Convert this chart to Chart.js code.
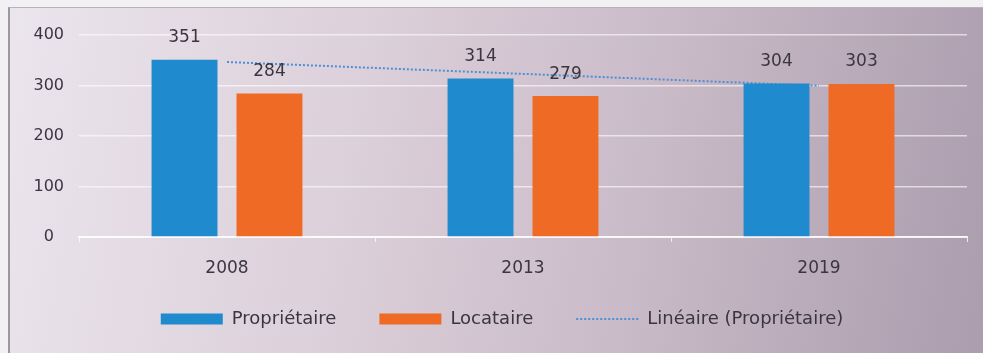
<!DOCTYPE html>
<html lang="fr">
<head>
<meta charset="utf-8">
<script src="https://cdn.jsdelivr.net/npm/chart.js@4.4.1/dist/chart.umd.min.js"></script>
<style>
  html, body { margin: 0; padding: 0; }
  body { width: 983px; height: 353px; overflow: hidden; background: #f3f0f3; }
  #frame {
    position: absolute; left: 8px; top: 7px; width: 975px; height: 346px;
    border-left: 2px solid #9c979c; border-top: 1px solid #b9b3b9;
    background: linear-gradient(100deg, #ebe5ed 0%, #dcd0da 35%, #c9bac7 65%, #ab9cae 100%);
  }
  #wrap { position: absolute; left: 0; top: 0; width: 983px; height: 353px; }
</style>
</head>
<body>
<div id="frame"></div>
<div id="wrap"><canvas id="c" width="983" height="353"></canvas></div>
<script>
// Années et effectifs par statut d'occupation
const years = ['2008', '2013', '2019'];
const proprietaire = [351, 314, 304];
const locataire = [284, 279, 303];
// Courbe de tendance linéaire des propriétaires
const tendance = [346.5, 323, 299.5];
const yTicks = [0, 100, 200, 300, 400];

const BLUE = '#1f8ace';
const ORANGE = '#ef6a24';
const TREND = '#4c8fd6';
const TEXT = '#3b3540';
const FONT = "'DejaVu Sans', 'Open Sans', sans-serif";

// Hauteurs fixes : axe des abscisses et zone de légende
const X_AXIS_HEIGHT = 45;
const LEGEND_HEIGHT = 71;
const LEGEND_TOP = 267;
const LEGEND_LEFT = 37;

// Étiquettes de valeur au-dessus des barres
const valueLabels = {
  id: 'valueLabels',
  afterDatasetsDraw(chart) {
    const ctx = chart.ctx;
    ctx.save();
    ctx.font = '17px ' + FONT;
    ctx.fillStyle = TEXT;
    ctx.textAlign = 'center';
    ctx.textBaseline = 'middle';
    chart.data.datasets.forEach((ds, di) => {
      if (ds.type === 'line') return;
      const meta = chart.getDatasetMeta(di);
      meta.data.forEach((el, i) => {
        ctx.fillText(String(ds.data[i]), el.x, el.y - 22);
      });
    });
    ctx.restore();
  }
};

// Légende : hauteur fixe et ligne placée sous l'axe
const legendPlacement = {
  id: 'legendPlacement',
  beforeLayout(chart) {
    const lg = chart.legend;
    if (lg && !lg._fixedFit) {
      const fit = lg.fit.bind(lg);
      lg.fit = function () { fit(); this.height = LEGEND_HEIGHT; };
      lg._fixedFit = true;
    }
  },
  afterLayout(chart) {
    const lg = chart.legend;
    if (lg) {
      lg.top = LEGEND_TOP; lg.bottom = LEGEND_TOP + lg.height;
      lg.left = LEGEND_LEFT;
    }
  }
};

new Chart(document.getElementById('c'), {
  type: 'bar',
  data: {
    labels: years,
    datasets: [
      { label: 'Propriétaire', data: proprietaire, backgroundColor: BLUE, order: 1,
        categoryPercentage: 0.574, barPercentage: 0.776 },
      { label: 'Locataire', data: locataire, backgroundColor: ORANGE, order: 2,
        categoryPercentage: 0.574, barPercentage: 0.776 },
      { type: 'line', label: 'Linéaire (Propriétaire)', data: tendance, order: 3,
        borderColor: TREND, borderWidth: 2, borderDash: [2, 2], pointRadius: 0,
        fill: false, tension: 0 }
    ]
  },
  options: {
    responsive: false,
    animation: false,
    devicePixelRatio: 1,
    layout: { padding: { left: 14, right: 16, top: 35, bottom: 0 } },
    scales: {
      x: {
        grid: { display: true, drawOnChartArea: false, drawTicks: true, tickLength: 5,
                color: 'rgba(255,255,255,0.75)' },
        border: { display: true, color: 'rgba(255,255,255,0.8)', width: 2 },
        ticks: { color: TEXT, font: { family: FONT, size: 17 }, padding: 16 },
        afterFit(scale) { scale.height = X_AXIS_HEIGHT; }
      },
      y: {
        min: 0, max: 400,
        afterBuildTicks(scale) { scale.ticks = yTicks.map(v => ({ value: v })); },
        grid: { color: 'rgba(255,255,255,0.6)', lineWidth: 1.5, drawTicks: false },
        border: { display: false },
        ticks: { color: TEXT, font: { family: FONT, size: 16 }, padding: 15, crossAlign: 'center' },
        afterFit(scale) { scale.width = 65; }
      }
    },
    plugins: {
      tooltip: { enabled: false },
      legend: {
        position: 'bottom',
        labels: {
          color: TEXT,
          font: { family: FONT, size: 18 },
          usePointStyle: true,
          pointStyleWidth: 62,
          boxHeight: 11,
          padding: 43,
          generateLabels(chart) {
            return chart.data.datasets.map((ds, i) => ({
              text: ds.label,
              datasetIndex: i,
              fillStyle: ds.type === 'line' ? 'rgba(0,0,0,0)' : ds.backgroundColor,
              strokeStyle: ds.type === 'line' ? TREND : ds.backgroundColor,
              lineWidth: ds.type === 'line' ? 2 : 0,
              lineDash: ds.type === 'line' ? [2, 2] : [],
              pointStyle: ds.type === 'line' ? 'line' : 'rect',
              fontColor: TEXT,
              hidden: false
            }));
          }
        }
      }
    }
  },
  plugins: [valueLabels, legendPlacement]
});
</script>
</body>
</html>
